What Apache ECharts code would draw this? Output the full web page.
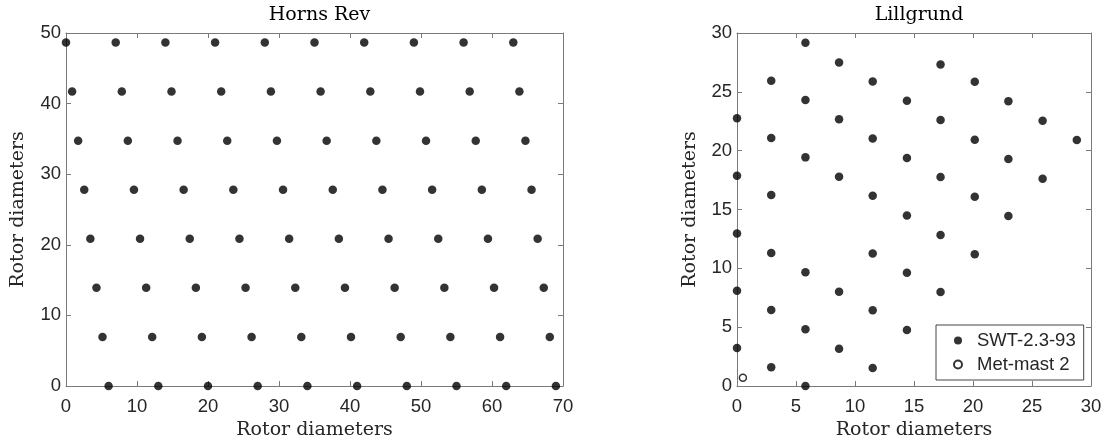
<!DOCTYPE html>
<html>
<head>
<meta charset="utf-8">
<script src="https://cdn.jsdelivr.net/npm/echarts@6/dist/echarts.min.js"></script>
<style>
html,body{margin:0;padding:0;background:#fff;}
#c{width:1110px;height:447px;}
</style>
</head>
<body>
<div id="c"></div>
<script>
// ---- Data ----
var hornsTitle = 'Horns Rev';
var lillTitle = 'Lillgrund';
var axisName = 'Rotor diameters';

var hornsRowY = [48.65, 41.7, 34.75, 27.8, 20.85, 13.9, 6.95, 0];
var hornsRowX = [
  [0, 7, 14, 21, 28, 35, 42, 49, 56, 63],
  [0.86, 7.86, 14.86, 21.86, 28.86, 35.86, 42.86, 49.86, 56.86, 63.86],
  [1.71, 8.71, 15.71, 22.71, 29.71, 36.71, 43.71, 50.71, 57.71, 64.71],
  [2.57, 9.57, 16.57, 23.57, 30.57, 37.57, 44.57, 51.57, 58.57, 65.57],
  [3.43, 10.43, 17.43, 24.43, 31.43, 38.43, 45.43, 52.43, 59.43, 66.43],
  [4.29, 11.29, 18.29, 25.29, 32.29, 39.29, 46.29, 53.29, 60.29, 67.29],
  [5.14, 12.14, 19.14, 26.14, 33.14, 40.14, 47.14, 54.14, 61.14, 68.14],
  [6, 13, 20, 27, 34, 41, 48, 55, 62, 69]
];

var lillX = [
  0, 0, 0, 0, 0,
  2.9, 2.9, 2.9, 2.9, 2.9, 2.9,
  5.8, 5.8, 5.8, 5.8, 5.8, 5.8,
  8.65, 8.65, 8.65, 8.65, 8.65,
  11.5, 11.5, 11.5, 11.5, 11.5, 11.5,
  14.4, 14.4, 14.4, 14.4, 14.4,
  17.25, 17.25, 17.25, 17.25, 17.25,
  20.15, 20.15, 20.15, 20.15,
  23.0, 23.0, 23.0,
  25.9, 25.9,
  28.8
];
var lillY = [
  22.75, 17.87, 12.97, 8.1, 3.23,
  25.94, 21.07, 16.23, 11.3, 6.46, 1.59,
  29.17, 24.3, 19.43, 9.66, 4.82, 0,
  27.5, 22.66, 17.78, 8.0, 3.17,
  25.88, 21.04, 16.17, 11.27, 6.43, 1.53,
  24.24, 19.37, 14.5, 9.63, 4.76,
  27.33, 22.6, 17.76, 12.83, 7.99,
  25.86, 20.93, 16.08, 11.19,
  24.21, 19.29, 14.45,
  22.54, 17.62,
  20.9
];
var metMastX = [0.5];
var metMastY = [0.7];

var turbineName = 'SWT-2.3-93';
var mastName = 'Met-mast 2';

var hornsXTicks = {min: 0, max: 70, interval: 10};
var hornsYTicks = {min: 0, max: 50, interval: 10};
var lillXTicks = {min: 0, max: 30, interval: 5};
var lillYTicks = {min: 0, max: 30, interval: 5};

// ---- Build ----
var hornsData = [];
for (var i = 0; i < hornsRowY.length; i++) {
  for (var j = 0; j < hornsRowX[i].length; j++) {
    hornsData.push([hornsRowX[i][j], hornsRowY[i]]);
  }
}
var lillData = lillX.map(function (x, k) { return [x, lillY[k]]; });
var mastData = metMastX.map(function (x, k) { return [x, metMastY[k]]; });

var axisColor = '#7a7a7a';
var labelColor = '#262626';
var serif = 'DejaVu Serif';
var sans = 'Liberation Sans';

function mkAxis(type, pos, grid, t, withLabel, name, nameGap) {
  var a = {
    type: 'value', gridIndex: grid, position: pos,
    min: t.min, max: t.max, interval: t.interval,
    axisLine: {show: true, onZero: false, lineStyle: {color: axisColor, width: 1}},
    axisTick: {show: true, inside: true, length: 5, lineStyle: {color: axisColor}},
    splitLine: {show: false},
    axisLabel: {show: withLabel, color: labelColor, fontFamily: sans, fontSize: 18.5,
                margin: type === 'x' ? 11 : 5}
  };
  if (name) {
    a.name = name;
    a.nameLocation = 'middle';
    a.nameGap = nameGap;
    a.nameTextStyle = {fontFamily: serif, fontSize: 19, color: labelColor};
  }
  return a;
}

var option = {
  animation: false,
  backgroundColor: '#fff',
  title: [
    {text: hornsTitle, left: 314.5, top: 1, textAlign: 'center',
     textStyle: {fontFamily: serif, fontSize: 19, fontWeight: 'normal', color: '#000'}},
    {text: lillTitle, left: 914, top: 1, textAlign: 'center',
     textStyle: {fontFamily: serif, fontSize: 19, fontWeight: 'normal', color: '#000'}}
  ],
  grid: [
    {left: 66, top: 33, width: 497, height: 353},
    {left: 737, top: 33, width: 354, height: 353}
  ],
  xAxis: [
    mkAxis('x', 'bottom', 0, hornsXTicks, true, axisName, 34),
    mkAxis('x', 'top', 0, hornsXTicks, false),
    mkAxis('x', 'bottom', 1, lillXTicks, true, axisName, 34),
    mkAxis('x', 'top', 1, lillXTicks, false)
  ],
  yAxis: [
    mkAxis('y', 'left', 0, hornsYTicks, true, axisName, 38),
    mkAxis('y', 'right', 0, hornsYTicks, false),
    mkAxis('y', 'left', 1, lillYTicks, true, axisName, 37),
    mkAxis('y', 'right', 1, lillYTicks, false)
  ],
  legend: {
    show: true,
    data: [turbineName, mastName],
    orient: 'vertical',
    left: 936, top: 325,
    width: 144,
    padding: [6, 8, 6, 17],
    itemGap: 5,
    itemWidth: 8, itemHeight: 8,
    borderColor: '#444', borderWidth: 1,
    backgroundColor: '#fff',
    textStyle: {fontFamily: sans, fontSize: 18.5, color: labelColor, padding: [0, 0, 0, 10]}
  },
  series: [
    {name: 'Horns Rev turbines', type: 'scatter', xAxisIndex: 0, yAxisIndex: 0,
     data: hornsData, symbol: 'circle', symbolSize: 8.5, clip: false,
     itemStyle: {color: '#000'}},
    {name: turbineName, type: 'scatter', xAxisIndex: 2, yAxisIndex: 2,
     data: lillData, symbol: 'circle', symbolSize: 8.5, clip: false,
     itemStyle: {color: '#000'}},
    {name: mastName, type: 'scatter', xAxisIndex: 2, yAxisIndex: 2,
     data: mastData, symbol: 'circle', symbolSize: 7, clip: false,
     itemStyle: {color: '#fff', borderColor: '#000', borderWidth: 1.5}}
  ]
};

var chart = echarts.init(document.getElementById('c'), null, {renderer: 'canvas'});
chart.setOption(option);
</script>
</body>
</html>
